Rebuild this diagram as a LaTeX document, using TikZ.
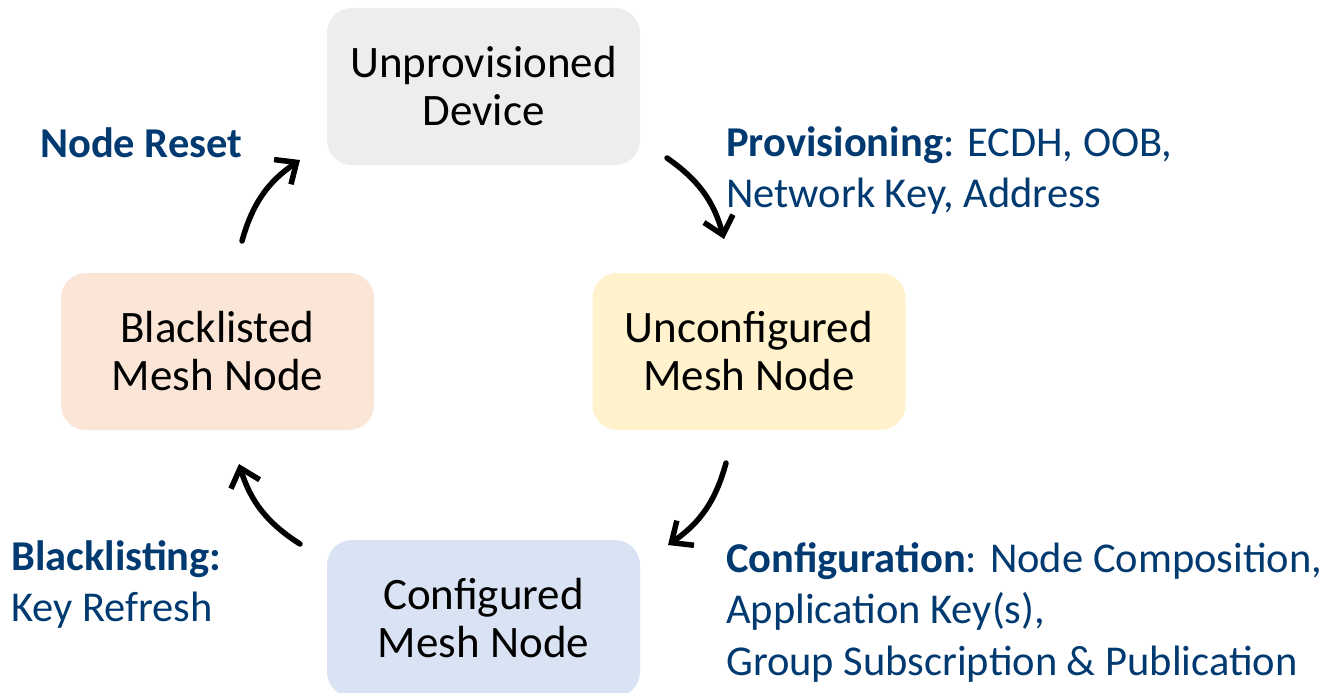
\documentclass[tikz,border=0pt]{standalone}
\usepackage{fontspec}
\setmainfont{Carlito}
\usetikzlibrary{arrows.meta}
\definecolor{lbl}{HTML}{003A70}
\definecolor{cgray}{HTML}{EDEDED}
\definecolor{cyellow}{HTML}{FFF2CC}
\definecolor{cblue}{HTML}{DAE3F3}
\definecolor{corange}{HTML}{FBE5D6}
\tikzset{
  state/.style={rounded corners=25pt, minimum width=313pt, minimum height=157pt,
    align=center, inner sep=0pt, text=black,
    font=\fontsize{45}{48}\selectfont},
  lbltext/.style={anchor=west, align=left, inner sep=0pt, text=lbl,
    font=\fontsize{42.5}{51.5}\selectfont},
  cyc/.style={line width=5.5pt, -{Straight Barb[length=17pt,width=30pt,line width=5.5pt]}, bend left=20, line cap=round},
}
\begin{document}
\begin{tikzpicture}[x=1pt,y=-1pt]
\useasboundingbox (0,0) rectangle (1323,693);
\node[state, fill=cgray] (unprov) at (483.5,86.5) {Unprovisioned\\Device};
\node[state, fill=cyellow] (unconf) at (749,351.5) {Unconfigured\\Mesh Node};
\node[state, fill=cblue] (conf) at (483.5,618.5) {Configured\\Mesh Node};
\node[state, fill=corange] (black) at (217.5,351.5) {Blacklisted\\Mesh Node};

\node[lbltext] (lreset) at (40,143) {\textbf{Node Reset}};
\node[lbltext] (lprov) at (726,170.5) {\textbf{Provisioning}: ECDH, OOB,\\Network Key, Address};
\node[lbltext] (lblack) at (11,584.5) {\textbf{Blacklisting:}\\Key Refresh};
\node[lbltext] (lconf) at (726,612) {\textbf{Configuration}: Node Composition,\\Application Key(s),\\Group Subscription \& Publication};

\coordinate (a1s) at (667,158);
\coordinate (a1e) at (724,239);
\coordinate (a2s) at (726,463);
\coordinate (a2e) at (668,545);
\coordinate (a3s) at (300,544);
\coordinate (a3e) at (239,464);
\coordinate (a4s) at (242,241);
\coordinate (a4e) at (300,160);
\draw[cyc] (a1s) to (a1e);
\draw[cyc] (a2s) to (a2e);
\draw[cyc] (a3s) to (a3e);
\draw[cyc] (a4s) to (a4e);
\end{tikzpicture}
\end{document}
